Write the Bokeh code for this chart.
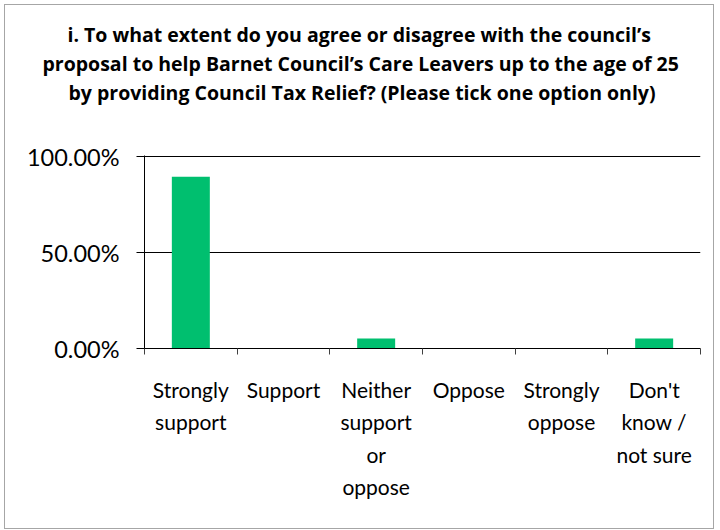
from bokeh.plotting import figure
from bokeh.models import FixedTicker, NumeralTickFormatter, Range1d, Title
from bokeh.embed import file_html
from bokeh.resources import INLINE

title_lines = [
    "i. To what extent do you agree or disagree with the council\u2019s",
    "proposal to help Barnet Council\u2019s Care Leavers up to the age of 25",
    "by providing Council Tax Relief? (Please tick one option only)",
]
categories = ["Strongly\nsupport", "Support", "Neither\nsupport\nor\noppose",
              "Oppose", "Strongly\noppose", "Don't\nknow /\nnot sure"]
values = [0.8947, 0.0, 0.0526, 0.0, 0.0, 0.0526]
y_ticks = [0.0, 0.5, 1.0]

centers = [i + 0.5 for i in range(len(categories))]
bounds = [float(i) for i in range(len(categories) + 1)]

FONT = "Lato"
TFONT = "Open Sans"

p = figure(width=710, height=525, x_range=Range1d(0, len(categories)), y_range=Range1d(0, 1.006),
           output_backend="svg", toolbar_location=None,
           min_border_left=139, min_border_right=15, min_border_top=150, min_border_bottom=182)
p.margin = (4, 4, 0, 4)
p.styles = {"border": "1px solid #a6a6a6", "box-sizing": "border-box"}
p.outline_line_color = None
p.background_fill_color = "white"
p.border_fill_color = "white"

p.vbar(x=centers, top=values, width=0.41, color="#00BF6F", line_color=None)

# spacer between the title block and the plot frame
p.add_layout(Title(text=" ", text_font_size="1px", standoff=47), "above")
# title: one Title per line, nearest line to the plot added first
title_offsets = [-77, -102, -76]
for line, off in reversed(list(zip(title_lines, title_offsets))):
    p.add_layout(Title(text=line, align="left", offset=off, standoff=0,
                       text_font=TFONT, text_font_style="bold", text_font_size="19.5px",
                       text_color="#000000"), "above")

# x axis
xa = p.xaxis[0]
xa.ticker = FixedTicker(ticks=centers, minor_ticks=bounds)
xa.major_label_overrides = {c: lab for c, lab in zip(centers, categories)}
xa.major_tick_in = 0
xa.major_tick_out = 0
xa.minor_tick_in = 0
xa.minor_tick_out = 6
xa.minor_tick_line_color = "#404040"
xa.axis_line_color = "#000000"
xa.major_label_text_font = FONT
xa.major_label_text_font_size = "21px"
xa.major_label_text_color = "#000000"
xa.major_label_text_line_height = 1.3
xa.major_label_standoff = 22
xa.major_label_orientation = "horizontal"

# y axis
ya = p.yaxis[0]
ya.ticker = FixedTicker(ticks=y_ticks)
ya.formatter = NumeralTickFormatter(format="0.00%")
ya.major_tick_in = 0
ya.major_tick_out = 8
ya.minor_tick_line_color = None
ya.axis_line_color = "#000000"
ya.major_tick_line_color = "#000000"
ya.major_label_text_font = FONT
ya.major_label_text_font_size = "23.5px"
ya.major_label_text_color = "#000000"
ya.major_label_standoff = 17

p.xgrid.grid_line_color = None
p.ygrid.ticker = FixedTicker(ticks=y_ticks)
p.ygrid.grid_line_color = "#000000"
p.ygrid.grid_line_width = 1

open("out.html", "w").write(file_html(p, INLINE))
